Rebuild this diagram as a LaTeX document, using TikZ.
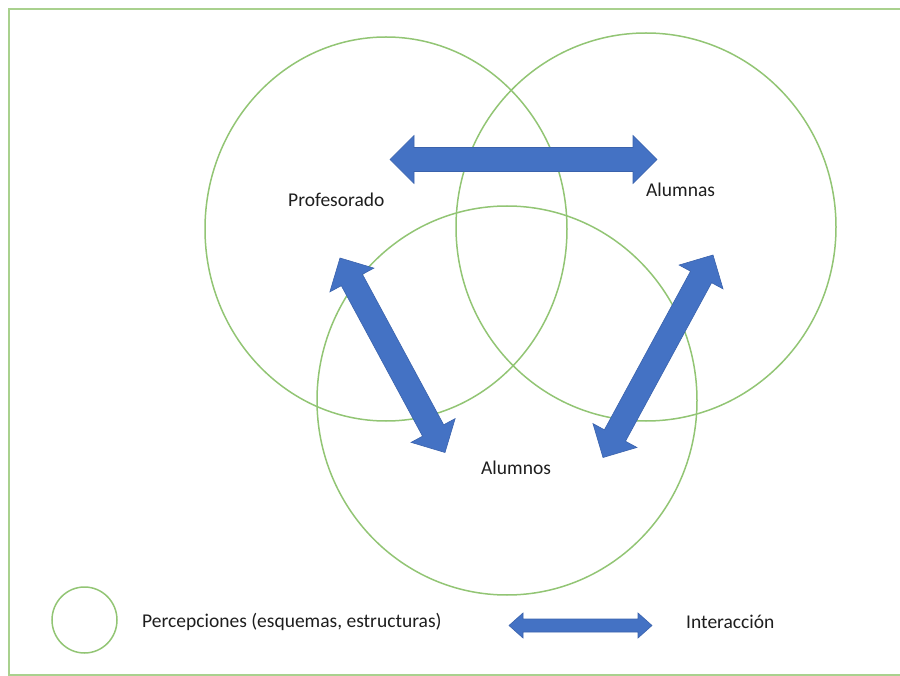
\documentclass[tikz,border=0pt]{standalone}
\usepackage{fontspec}
\setmainfont{Carlito}
\usetikzlibrary{calc,shapes.geometric}
\definecolor{ringgreen}{HTML}{92C574}
\definecolor{framegreen}{HTML}{A9D18E}
\definecolor{arrowblue}{HTML}{4472C4}
\definecolor{arrowedge}{HTML}{3A62AC}
\definecolor{labeltext}{HTML}{1E1E1E}
% #1 tip A, #2 tip B, #3 shaft half width, #4 head half width, #5 head length
\newcommand\dblarrow[5]{%
  \filldraw[arrowstyle]
    (#1)
    -- ($(#1)!#5!(#2)!#4!90:(#2)$)
    -- ($(#1)!#5!(#2)!#3!90:(#2)$)
    -- ($(#2)!#5!(#1)!#3!-90:(#1)$)
    -- ($(#2)!#5!(#1)!#4!-90:(#1)$)
    -- (#2)
    -- ($(#2)!#5!(#1)!#4!90:(#1)$)
    -- ($(#2)!#5!(#1)!#3!90:(#1)$)
    -- ($(#1)!#5!(#2)!#3!-90:(#2)$)
    -- ($(#1)!#5!(#2)!#4!-90:(#2)$)
    -- cycle;}
\begin{document}
\begin{tikzpicture}[x=1pt,y=-1pt,
  ring/.style={ellipse,draw=ringgreen,line width=1.5pt,inner sep=0pt},
  arrowstyle/.style={fill=arrowblue,draw=arrowedge,line width=0.6pt,line join=miter},
  lbl/.style={anchor=base west,inner sep=0pt,text=labeltext,font=\fontsize{19.5}{23}\selectfont}]
\useasboundingbox (0,0) rectangle (900,676);
\begin{scope}
\clip (0,0) rectangle (900,676);
\draw[framegreen,line width=2pt] (9,9.5) rectangle (910,675);
\end{scope}
% perception circles
\node[ring,minimum width=362pt,minimum height=384pt] (cprof) at (386,229) {};
\node[ring,minimum width=380pt,minimum height=388pt] (calumnas) at (646,227) {};
\node[ring,minimum width=380pt,minimum height=389pt] (calumnos) at (507,400.5) {};
% arrow end points
\coordinate (h1) at (390,159.5);
\coordinate (h2) at (657,159.5);
\coordinate (l1) at (340,258);
\coordinate (l2) at (445,452.5);
\coordinate (r1) at (713,255);
\coordinate (r2) at (603,457.5);
\dblarrow{h1}{h2}{12pt}{24pt}{24pt}
\dblarrow{l1}{l2}{12pt}{25pt}{25pt}
\dblarrow{r1}{r2}{12pt}{25pt}{25pt}
% labels
\node[lbl] (tprof) at (288,207) {Profesorado};
\node[lbl] (talumnas) at (646,197) {Alumnas};
\node[lbl] (talumnos) at (481,474) {Alumnos};
% legend
\node[ring,minimum width=65pt,minimum height=66pt] (legcirc) at (84.5,620) {};
\node[lbl] (tpercep) at (142,627.5) {Percepciones (esquemas, estructuras)};
\coordinate (g1) at (509,625.5);
\coordinate (g2) at (652,625.5);
\dblarrow{g1}{g2}{6.5pt}{12.5pt}{14pt}
\node[lbl] (tinter) at (686,628) {Interacción};
\end{tikzpicture}
\end{document}
